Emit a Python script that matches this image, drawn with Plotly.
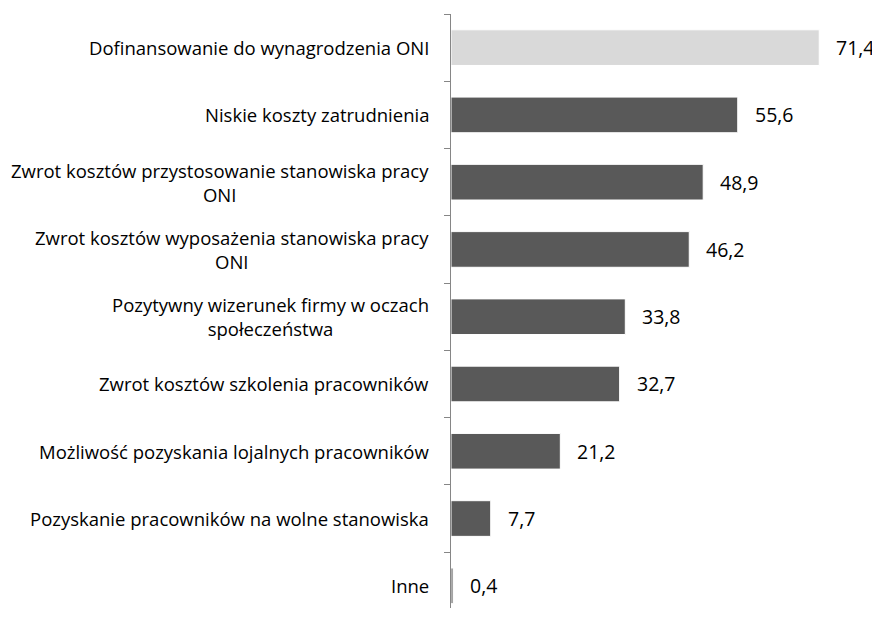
# Horizontal bar chart: reasons for employing ONI (percent of answers)
import plotly.graph_objects as go

categories = [
    "Dofinansowanie do wynagrodzenia ONI",
    "Niskie koszty zatrudnienia",
    "Zwrot kosztów przystosowanie stanowiska pracy<br>ONI",
    "Zwrot kosztów wyposażenia stanowiska pracy<br>ONI",
    "Pozytywny wizerunek firmy w oczach<br>społeczeństwa",
    "Zwrot kosztów szkolenia pracowników",
    "Możliwość pozyskania lojalnych pracowników",
    "Pozyskanie pracowników na wolne stanowiska",
    "Inne",
]
values = [71.4, 55.6, 48.9, 46.2, 33.8, 32.7, 21.2, 7.7, 0.4]
value_labels = ["71,4", "55,6", "48,9", "46,2", "33,8", "32,7", "21,2", "7,7", "0,4"]
bar_colors = ["#d9d9d9"] + ["#595959"] * 8

# page body adds ~8px around the figure, so keep the figure inside the window
W, H = 872, 603
ml, mr, mt, mb = 443, 17, 6, 0
pw, ph = W - ml - mr, H - mt - mb
dx, dy = 2 / pw, 3 / ph  # shadow offset in paper units
xmax = 79.5
# last category boundary falls just below the window, as in the original
yrange = [8.33, -0.5]

font = "Open Sans, Noto Sans, sans-serif"

fig = go.Figure()

# soft shadow behind the bars (drawn on the first, hidden subplot)
fig.add_trace(go.Bar(
    x=values, y=categories, orientation="h", width=0.53,
    marker=dict(color="rgba(120,120,120,0.35)", line=dict(width=0)),
    xaxis="x", yaxis="y", hoverinfo="skip", showlegend=False,
))

# the real bars
fig.add_trace(go.Bar(
    x=values, y=categories, orientation="h", width=0.53,
    marker=dict(color=bar_colors, line=dict(color="white", width=1)),
    xaxis="x2", yaxis="y2", showlegend=False,
))

# value labels
for cat, v, lab in zip(categories, values, value_labels):
    fig.add_annotation(x=v, y=cat, xref="x2", yref="y2", text=lab,
                       showarrow=False, xanchor="left", xshift=15,
                       font=dict(family=font, size=19.5, color="#000000"))

# category labels, centred lines, right-aligned block
for cat in categories:
    fig.add_annotation(x=0, y=cat, xref="paper", yref="y2", text=cat,
                       showarrow=False, xanchor="right", align="center",
                       xshift=-20, font=dict(family=font, size=18.5, color="#000000"))

fig.update_layout(
    width=W, height=H,
    margin=dict(l=ml, r=mr, t=mt, b=mb),
    plot_bgcolor="white", paper_bgcolor="white",
    xaxis=dict(range=[0, xmax], domain=[dx, 1], visible=False),
    yaxis=dict(range=yrange, domain=[0, 1 - dy], visible=False,
               categoryorder="array", categoryarray=categories),
    xaxis2=dict(range=[0, xmax], domain=[0, 1 - dx], anchor="y2", visible=False),
    yaxis2=dict(range=yrange, domain=[dy, 1], anchor="x2",
                categoryorder="array", categoryarray=categories,
                showticklabels=False, showgrid=False, zeroline=False,
                showline=True, linecolor="#868686", linewidth=1,
                ticks="outside", ticklen=6, tickcolor="#868686",
                tickson="boundaries"),
)

fig.write_html("out.html")
